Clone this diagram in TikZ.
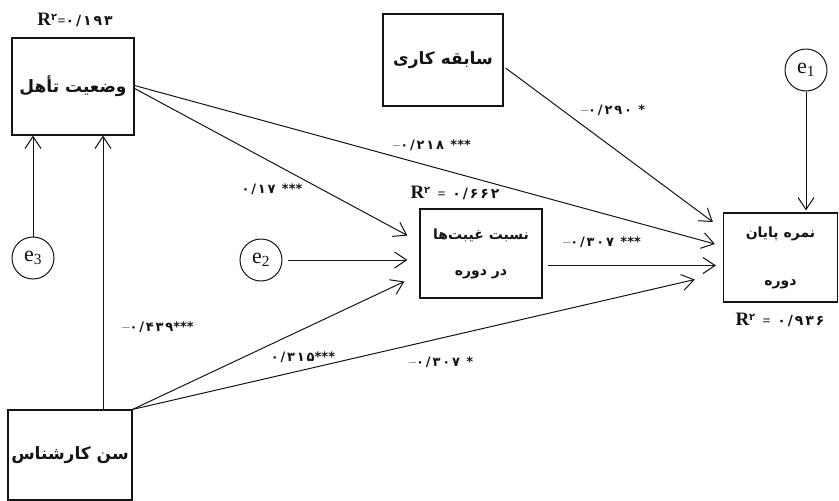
\documentclass[tikz,border=0pt]{standalone}
\usepackage{fontspec}
\usetikzlibrary{arrows.meta,positioning,calc}
\TeXXeTstate=1
\newfontfamily\arabicfont[Script=Arabic]{DejaVu Sans}
\newfontfamily\numfont[Script=Arabic,LetterSpace=14]{DejaVu Sans}
\newfontfamily\timesfont{Liberation Serif}
\newcommand{\negsign}{\textrm{--}}
\newcommand{\stars}[1]{{\arabicfont\bfseries #1}}
\newcommand{\rsqsym}{{\timesfont\bfseries\fontsize{19}{19}\selectfont R}}
\definecolor{Ink}{HTML}{141414}

\begin{document}
\begin{tikzpicture}[x=1pt,y=-1pt,
  varbox/.style={draw=Ink,line width=1.2pt,inner sep=0pt,align=center,text=Ink},
  bigtxt/.style={font=\arabicfont\bfseries\fontsize{17}{19}\selectfont},
  smalltxt/.style={font=\arabicfont\bfseries\fontsize{14}{16}\selectfont},
  errnode/.style={circle,draw=Ink,line width=1pt,minimum size=42pt,inner sep=0pt,text=Ink,font=\timesfont\fontsize{22}{22}\selectfont},
  coef/.style={text=Ink,inner sep=1pt,font=\numfont\bfseries\fontsize{13}{15}\selectfont},
  rsq/.style={text=Ink,inner sep=1pt,font=\numfont\bfseries\fontsize{14}{16}\selectfont},
  pth/.style={draw=Ink,line width=1pt,-{Straight Barb[length=12pt,width=16pt,line width=1pt]}}]
\useasboundingbox (0,0) rectangle (839,501);

% variables
\node[varbox,bigtxt,minimum width=122pt,minimum height=97pt] (tahol) at (73,86.5) {\beginR وضعیت تأهل\endR};
\node[varbox,bigtxt,minimum width=120pt,minimum height=92pt] (sabeqe) at (443,60) {\beginR سابقه کاری\endR};
\node[varbox,smalltxt,minimum width=114pt,minimum height=89pt] (nomre) at (780.5,257.5) {\beginR نمره پایان\endR\\[32pt]\beginR دوره\endR};
\node[varbox,smalltxt,minimum width=122pt,minimum height=89pt] (nesbat) at (481,253.5) {\beginR نسبت غیبت‌ها\endR\\[20pt]\beginR در دوره\endR};
\node[varbox,bigtxt,minimum width=124pt,minimum height=90pt] (senn) at (70,455) {\beginR سن کارشناس\endR};

% error terms
\node[errnode] (e1) at (806,70) {e\textsubscript{1}};
\node[errnode] (e2) at (261,260) {e\textsubscript{2}};
\node[errnode] (e3) at (33,258) {e\textsubscript{3}};

% R squared
\node[rsq] (r_tahol) at (75,20) {\beginR\beginL\rsqsym\textsuperscript{۲}{\timesfont\bfseries=}۰/۱۹۳\endL\endR};
\node[rsq] (r_nesbat) at (455,193) {\beginR\beginL\rsqsym\textsuperscript{۲} {\timesfont=} ۰/۶۶۲\endL\endR};
\node[rsq] (r_nomre) at (780,320) {\beginR\beginL\rsqsym\textsuperscript{۲} {\timesfont=} ۰/۹۳۶\endL\endR};

% paths
\draw[pth] (e3.north) -- (e3.north |- tahol.south);
\draw[pth] ([xshift=33pt]senn.north) -- ([xshift=30pt]tahol.south);
\draw[pth] ([yshift=1pt]tahol.east) -- ([xshift=-8pt,yshift=13.5pt]nomre.west);
\draw[pth] ([yshift=-2pt]tahol.east) -- ([xshift=-12pt,yshift=18pt]nesbat.west);
\draw[pth] ([xshift=2pt,yshift=-8pt]sabeqe.east) -- ([xshift=-10pt,yshift=35.5pt]nomre.west);
\draw[pth,line width=0.7pt,shorten >=2pt] (e1.south) -- (e1.south |- nomre.north);
\draw[pth,shorten <=5pt,shorten >=12pt] (e2.east) -- (e2.east -| nesbat.west);
\draw[pth] ([xshift=5pt,yshift=-12pt]nesbat.east) -- ([xshift=-7pt,yshift=-8pt]nomre.west);
\draw[pth] (senn.north east) -- ([xshift=-15pt,yshift=-28pt]nesbat.west);
\draw[pth] (senn.north east) -- ([xshift=-28pt,yshift=-22pt]nomre.west);

% coefficients
\node[coef] (c_tahol_nomre) at (432,145) {\beginR\beginL\negsign۰/۲۱۸ \stars{***}\endL\endR};
\node[coef] (c_tahol_nesbat) at (272,189) {\beginR\beginL۰/۱۷ \stars{***}\endL\endR};
\node[coef] (c_sabeqe_nomre) at (613,110) {\beginR\beginL\negsign۰/۲۹۰ \stars{*}\endL\endR};
\node[coef] (c_senn_tahol) at (158,327) {\beginR\beginL\negsign۰/۴۳۹\stars{***}\endL\endR};
\node[coef] (c_senn_nesbat) at (303,357) {\beginR\beginL۰/۳۱۵\stars{***}\endL\endR};
\node[coef] (c_senn_nomre) at (441,362) {\beginR\beginL\negsign۰/۳۰۷ \stars{*}\endL\endR};
\node[coef] (c_nesbat_nomre) at (602,242) {\beginR\beginL\negsign۰/۳۰۷ \stars{***}\endL\endR};
\end{tikzpicture}
\end{document}
